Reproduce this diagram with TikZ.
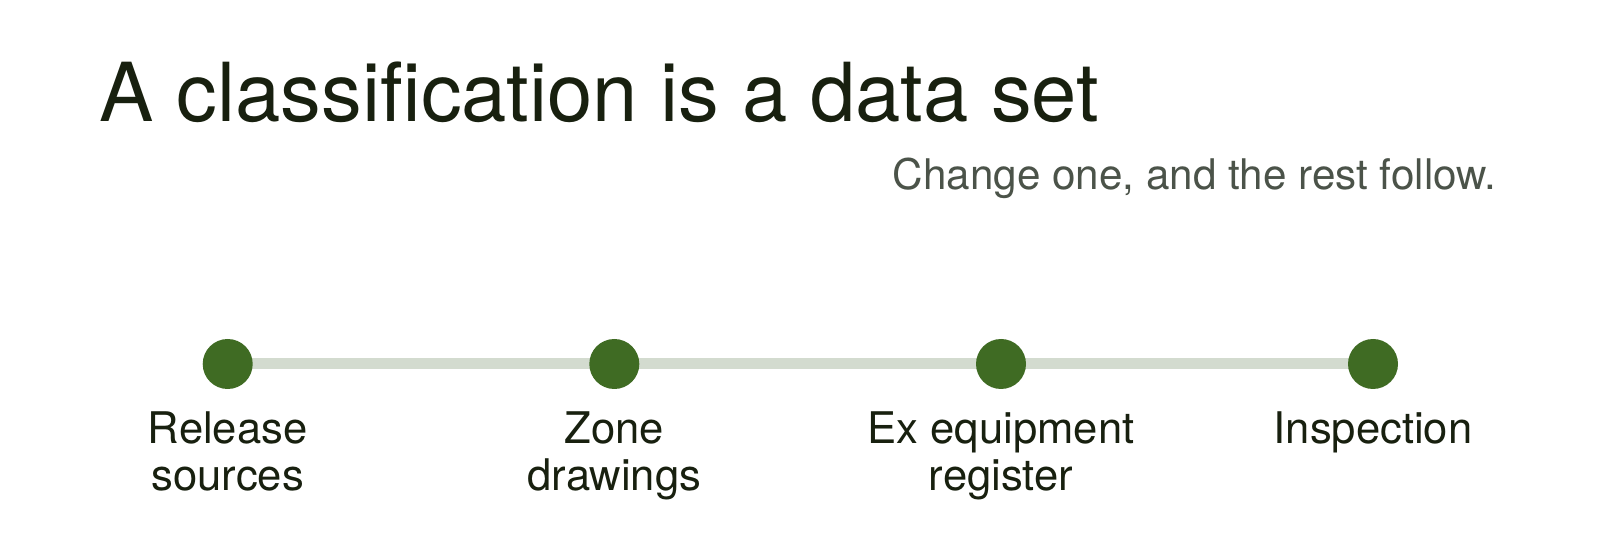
\documentclass[tikz,border=0pt]{standalone}
\usepackage{fontspec}
\setmainfont{TeX Gyre Heros}
\usetikzlibrary{backgrounds}
\definecolor{dotgreen}{HTML}{3F6B23}
\definecolor{linegrey}{HTML}{D3DBCF}
\definecolor{inkdark}{HTML}{18200F}
\definecolor{subgrey}{HTML}{4B5349}
\tikzset{
  dotnode/.style={circle,fill=dotgreen,draw=none,minimum size=25pt,inner sep=0pt},
  lbl/.style={align=center,anchor=base,text=inkdark,font=\fontsize{21.8pt}{23.3pt}\selectfont,inner sep=0pt},
}
\begin{document}
\begin{tikzpicture}[x=0.5pt,y=-0.5pt]
\useasboundingbox (0,0) rectangle (1600,550);
\node[anchor=base west,inner sep=0pt,text=inkdark,font=\fontsize{40.7pt}{48pt}\selectfont] (title) at (99.5,122) {A classification is a data set};
\node[anchor=base east,inner sep=0pt,text=subgrey,font=\fontsize{21.1pt}{25pt}\selectfont] (sub) at (1497,190) {Change one, and the rest follow.};
\node[dotnode] (d1) at (227.7,364) {};
\node[dotnode] (d2) at (614.3,364) {};
\node[dotnode] (d3) at (1001,364) {};
\node[dotnode] (d4) at (1373,364) {};
\begin{pgfonlayer}{background}
\fill[white] (0,0) rectangle (1600,550);
\draw[linegrey,line width=5.5pt] (d1.center) -- (d2.center) -- (d3.center) -- (d4.center);
\end{pgfonlayer}
\node[lbl] (l1) at (227.7,490.5) {Release\\sources};
\node[lbl] (l2) at (614.3,490.5) {Zone\\drawings};
\node[lbl] (l3) at (1001,490.5) {Ex equipment\\register};
\node[lbl] (l4) at (1373,444) {Inspection};
\end{tikzpicture}
\end{document}
